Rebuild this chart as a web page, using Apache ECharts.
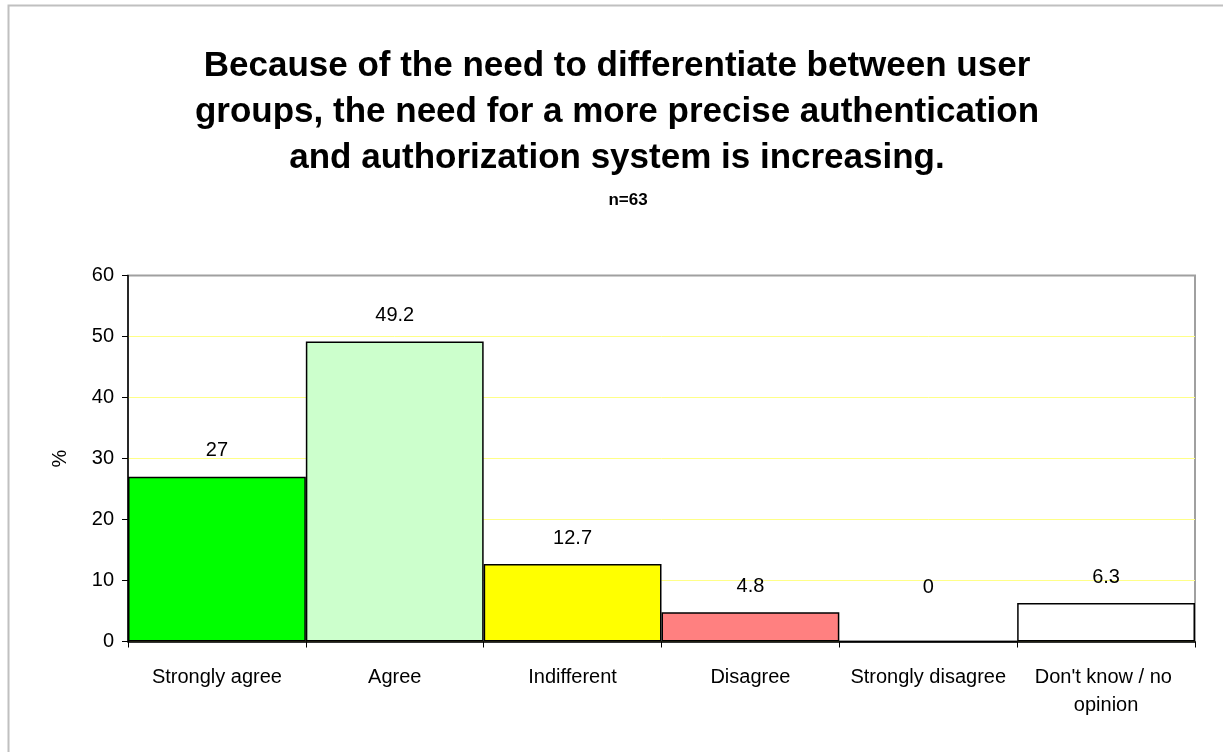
<!DOCTYPE html>
<html>
<head>
<meta charset="utf-8">
<script src="https://cdn.jsdelivr.net/npm/echarts@6/dist/echarts.min.js"></script>
<style>
  html, body { margin: 0; padding: 0; background: #fff; }
  #chart { width: 1223px; height: 752px; }
</style>
</head>
<body>
<div id="chart"></div>
<script>
const categories = ['Strongly agree', 'Agree', 'Indifferent', 'Disagree', 'Strongly disagree', "Don't know / no opinion"]
const values = [27, 49.2, 12.7, 4.8, 0, 6.3]
const barColors = ['#00ff00', '#ccffcc', '#ffff00', '#ff8080', '#ffffff', '#ffffff']
const yTicks = [0, 10, 20, 30, 40, 50, 60]

const font = 'Arial, "Liberation Sans", sans-serif'

// 构建柱子数据
const seriesData = values.map((v, i) => ({
  value: v,
  itemStyle: { color: barColors[i] },
  label: v === 0 ? { distance: 43 } : {}
}))

const myChart = echarts.init(document.getElementById('chart'))
myChart.setOption({
  backgroundColor: '#fff',
  animation: false,
  title: [{
    text: 'Because of the need to differentiate between user\ngroups, the need for a more precise authentication\nand authorization system is increasing.',
    left: 612,
    top: 38,
    textAlign: 'center',
    textStyle: { fontFamily: font, fontSize: 35, fontWeight: 'bold', color: '#000', lineHeight: 46 }
  }, {
    text: 'n=63',
    left: 623,
    top: 187,
    textAlign: 'center',
    textStyle: { fontFamily: font, fontSize: 17, fontWeight: 'bold', color: '#000' }
  }],
  graphic: [{
    type: 'rect',
    shape: { x: 8.5, y: 5.5, width: 1400, height: 900 },
    style: { fill: 'none', stroke: '#c0c0c0', lineWidth: 2 },
    z: 100
  }],
  grid: {
    left: 128,
    top: 275.5,
    right: 28,
    bottom: 110.5,
    show: true,
    borderColor: '#a0a0a0',
    borderWidth: 2,
    backgroundColor: '#fff'
  },
  xAxis: {
    type: 'category',
    data: categories,
    axisLine: { lineStyle: { color: '#000', width: 1.5 } },
    axisTick: { show: true, length: 6, lineStyle: { color: '#000' } },
    axisLabel: {
      margin: 22,
      fontFamily: font,
      fontSize: 20,
      color: '#000',
      width: 172,
      overflow: 'break',
      lineHeight: 28,
      interval: 0
    }
  },
  yAxis: {
    type: 'value',
    min: 0,
    max: 60,
    interval: 10,
    name: '%',
    nameLocation: 'middle',
    nameGap: 58,
    nameRotate: 90,
    nameTextStyle: { fontFamily: font, fontSize: 20, color: '#000' },
    axisLine: { show: true, lineStyle: { color: '#000', width: 1.5 } },
    axisTick: { show: true, length: 6, lineStyle: { color: '#000' } },
    axisLabel: {
      margin: 14,
      fontFamily: font,
      fontSize: 20,
      color: '#000',
      formatter: v => (yTicks.includes(v) ? String(v) : '')
    },
    splitLine: { show: true, showMaxLine: false, lineStyle: { color: '#ffff88', width: 1 } }
  },
  series: [{
    type: 'bar',
    data: seriesData,
    barCategoryGap: 0,
    itemStyle: { borderColor: '#000', borderWidth: 1.5 },
    label: {
      show: true,
      position: 'top',
      distance: 16,
      fontFamily: font,
      fontSize: 20,
      color: '#000'
    }
  }]
})
</script>
</body>
</html>
